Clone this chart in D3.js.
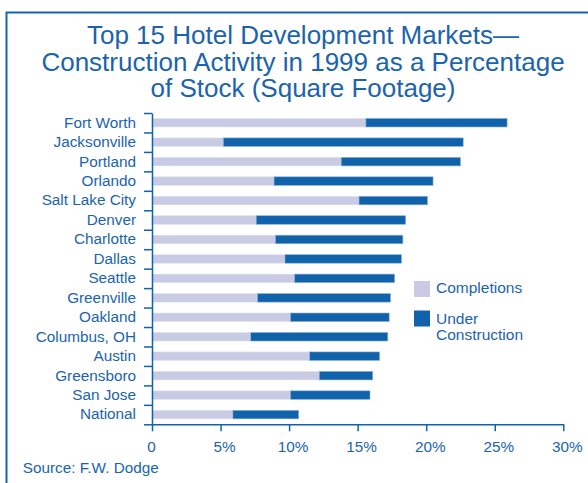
<!DOCTYPE html>
<html>
<head>
<meta charset="utf-8">
<script src="https://cdn.jsdelivr.net/npm/d3@7"></script>
<style>
  html, body { margin: 0; padding: 0; background: #ffffff; }
  svg { display: block; }
  text { font-family: "Liberation Sans", Arial, sans-serif; fill: #1b64ad; }
</style>
</head>
<body>
<svg id="chart" width="588" height="483"></svg>
<script>
const markets = ["Fort Worth","Jacksonville","Portland","Orlando","Salt Lake City","Denver","Charlotte","Dallas","Seattle","Greenville","Oakland","Columbus, OH","Austin","Greensboro","San Jose","National"];
const completions = [15.6, 5.2, 13.8, 8.9, 15.1, 7.6, 9.0, 9.7, 10.4, 7.7, 10.1, 7.2, 11.5, 12.2, 10.1, 5.9];
const underConstruction = [10.3, 17.5, 8.7, 11.6, 5.0, 10.9, 9.3, 8.5, 7.3, 9.7, 7.2, 10.0, 5.1, 3.9, 5.8, 4.8];
const xTicks = [0, 5, 10, 15, 20, 25, 30];
const xTickLabels = ["0", "5%", "10%", "15%", "20%", "25%", "30%"];
const titleLines = ["Top 15 Hotel Development Markets\u2014", "Construction Activity in 1999 as a Percentage", "of Stock (Square Footage)"];
const seriesNames = ["Completions", "Under Construction"];
const sourceText = "Source: F.W. Dodge";

const BLUE = "#1063aa", LIGHT = "#c9cbe4", TEXT = "#1b64ad";

const svg = d3.select("#chart");

// frame
svg.append("path")
  .attr("d", "M6.5,600 L6.5,12.5 L600,12.5")
  .attr("fill", "none").attr("stroke", "#1565b0").attr("stroke-width", 2);

// title
svg.append("g").selectAll("text").data(titleLines).join("text")
  .attr("x", 303).attr("y", (d, i) => 44.3 + i * 26.5)
  .attr("text-anchor", "middle")
  .style("font-size", "26px")
  .text(d => d);

const x = d3.scaleLinear().domain([0, 30]).range([152, 563.3]);
const y = d3.scaleBand().domain(markets).range([113, 424.3]).paddingInner(0.56).paddingOuter(0.28);
const yEdge = d3.scaleLinear().domain([0, markets.length]).range([113, 424.3]);

const rows = markets.map((m, i) => ({ m, c: completions[i], u: underConstruction[i] }));

// bars
const gBars = svg.append("g");
gBars.selectAll("rect.c").data(rows).join("rect").attr("class", "c")
  .attr("x", x(0)).attr("y", d => y(d.m))
  .attr("width", d => x(d.c) - x(0)).attr("height", y.bandwidth())
  .attr("fill", LIGHT).attr("stroke", "#dfe3f1").attr("stroke-width", 0.6);
gBars.selectAll("rect.u").data(rows).join("rect").attr("class", "u")
  .attr("x", d => x(d.c)).attr("y", d => y(d.m))
  .attr("width", d => x(d.c + d.u) - x(d.c)).attr("height", y.bandwidth())
  .attr("fill", BLUE).attr("stroke", "#8fb3d9").attr("stroke-width", 0.6);

// y axis ticks & line
const yTickAxis = svg.append("g").attr("transform", `translate(${x(0)},0)`)
  .call(d3.axisLeft(yEdge).tickValues(d3.range(markets.length + 1)).tickFormat("").tickSize(8).tickSizeOuter(0));
yTickAxis.selectAll("line, path").attr("stroke", BLUE).attr("stroke-width", 1.5);

// y labels
const yLab = svg.append("g").attr("transform", `translate(${x(0)},0)`)
  .call(d3.axisLeft(y).tickSize(0).tickPadding(16));
yLab.select(".domain").remove();
yLab.selectAll("text").attr("fill", TEXT).style("font-size", "15.3px")
  .style("font-family", "'Liberation Sans', Arial, sans-serif");

// x axis
const xAx = svg.append("g").attr("transform", `translate(0,${y.range()[1]})`)
  .call(d3.axisBottom(x).tickValues(xTicks).tickFormat((d, i) => xTickLabels[i]).tickSize(7).tickSizeOuter(0).tickPadding(9.5));
xAx.selectAll("line, path").attr("stroke", BLUE).attr("stroke-width", 1.5);
xAx.selectAll("text").attr("fill", TEXT).style("font-size", "15.3px")
  .style("font-family", "'Liberation Sans', Arial, sans-serif")
  .attr("dx", d => d === 0 ? -1 : 3.5);

// legend
const legend = svg.append("g");
const legendColors = [LIGHT, BLUE];
legend.selectAll("rect").data(seriesNames).join("rect")
  .attr("x", 414).attr("y", (d, i) => 281 + i * 29.5)
  .attr("width", 16).attr("height", 16)
  .attr("fill", (d, i) => legendColors[i]);
legend.append("text").attr("x", 436).attr("y", 293.3).style("font-size", "15.5px").text("Completions");
const t2 = legend.append("text").attr("x", 436).attr("y", 323.5).style("font-size", "15.5px");
t2.append("tspan").attr("x", 436).text("Under");
t2.append("tspan").attr("x", 436).attr("dy", 16.3).text("Construction");

// source
svg.append("text").attr("x", 22.7).attr("y", 473.3).style("font-size", "15.3px").text(sourceText);
</script>
</body>
</html>
